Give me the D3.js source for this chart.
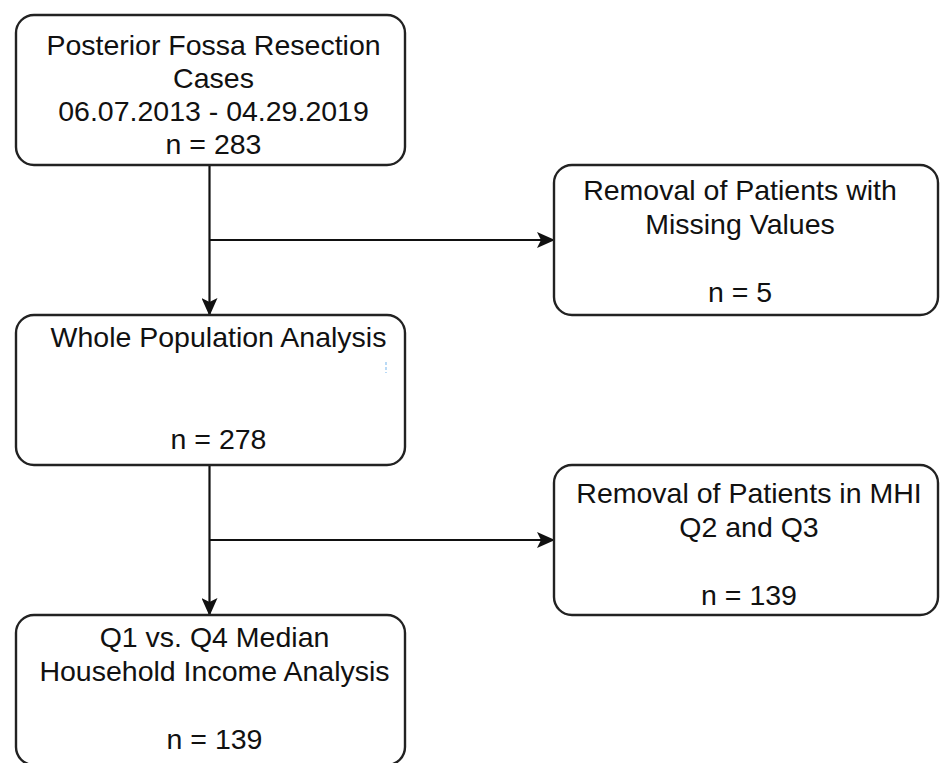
<!DOCTYPE html>
<html lang="en">
<head>
<meta charset="UTF-8">
<title>Posterior fossa cohort flow</title>
<script src="https://d3js.org/d3.v7.min.js"></script>
<style>
  body { margin: 0; background: #fff; }
  text { font-family: "Liberation Sans", Arial, Helvetica, sans-serif; fill: #111; }
</style>
</head>
<body>
<div id="chart"></div>
<script>
// flowchart content
const stepTitles = [
  ["Posterior Fossa Resection", "Cases", "06.07.2013 - 04.29.2019"],
  ["Removal of Patients with", "Missing Values", ""],
  ["Whole Population Analysis", "", ""],
  ["Removal of Patients in MHI", "Q2 and Q3", ""],
  ["Q1 vs. Q4 Median", "Household Income Analysis", ""]
];
const stepCounts = [283, 5, 278, 139, 139];
const stepColumn = ["main", "side", "main", "side", "main"];

const width = 940, height = 763;
const svg = d3.select("#chart").append("svg")
    .attr("width", width)
    .attr("height", height);

// rows and columns
const row = d3.scaleLinear().domain([0, 4]).range([15, 615]);
const col = d3.scaleOrdinal().domain(["main", "side"]).range([16, 554]);
const boxW = {main: 389, side: 384};
const boxH = 150;

// first baseline + text nudge per box
const firstBase = [40, 35, 32, 38, 32];
const lineH = [33, 34, 34, 34, 34];
const textDx = [3, -6, 8, 3, 4];

svg.append("defs").append("marker")
    .attr("id", "arrow")
    .attr("viewBox", "0 0 18 16")
    .attr("refX", 17).attr("refY", 8)
    .attr("markerWidth", 18).attr("markerHeight", 16)
    .attr("markerUnits", "userSpaceOnUse")
    .attr("orient", "auto")
  .append("path")
    .attr("d", "M0,0 L18,8 L0,16 L4,8 Z")
    .attr("fill", "#111");

const steps = stepTitles.map((t, i) => ({
  i,
  lines: t.concat(["n = " + stepCounts[i]]),
  x: col(stepColumn[i]),
  y: row(i),
  w: boxW[stepColumn[i]]
}));

// connectors: main column trunk and side branches
const trunkX = col("main") + boxW.main / 2 - 1;
const links = [];
for (let i = 0; i < steps.length - 1; i += 2) {
  const a = steps[i], side = steps[i + 1], b = steps[i + 2];
  links.push([[trunkX, a.y + boxH], [trunkX, b.y]]);
  links.push([[trunkX, side.y + boxH / 2], [side.x, side.y + boxH / 2]]);
}

svg.append("g").selectAll("path")
  .data(links)
  .join("path")
    .attr("d", d => d3.line()(d))
    .attr("fill", "none")
    .attr("stroke", "#111")
    .attr("stroke-width", 2.2)
    .attr("marker-end", "url(#arrow)");

const box = svg.append("g").selectAll("g")
  .data(steps)
  .join("g")
    .attr("transform", d => `translate(${d.x},${d.y})`);

box.append("rect")
    .attr("width", d => d.w)
    .attr("height", boxH)
    .attr("rx", 18).attr("ry", 18)
    .attr("fill", "#fff")
    .attr("stroke", "#222")
    .attr("stroke-width", 2.4);

box.append("text")
    .attr("text-anchor", "middle")
    .style("font-size", "28.5px")
  .selectAll("tspan")
  .data(d => d.lines.map((l, j) => ({l, j, d})))
  .join("tspan")
    .attr("x", d => d.d.w / 2 + textDx[d.d.i])
    .attr("y", d => firstBase[d.d.i] + d.j * lineH[d.d.i])
    .text(d => d.l);

// stray cursor mark in the whole-population box
svg.append("line")
    .attr("x1", 386).attr("x2", 386)
    .attr("y1", row(2) + 47).attr("y2", row(2) + 58)
    .attr("stroke", "#8cc2f0")
    .attr("stroke-width", 1.2)
    .attr("stroke-dasharray", "3,2");
</script>
</body>
</html>
